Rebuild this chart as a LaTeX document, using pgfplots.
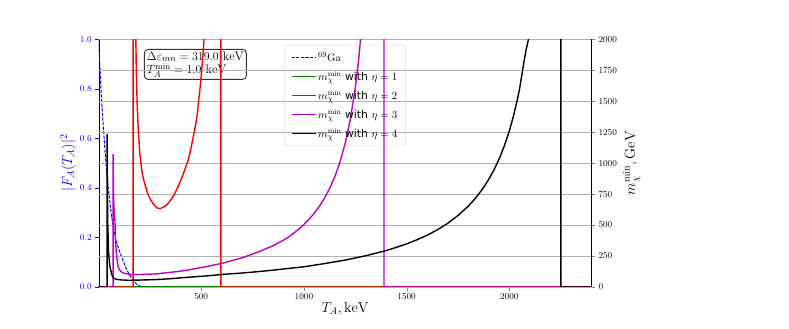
\documentclass[border=0pt]{standalone}
\usepackage{fontspec}
\usepackage{pgfplots}
\pgfplotsset{compat=1.18}
\newfontfamily\dejavu{DejaVu Sans}
\definecolor{mplgreen}{rgb}{0,0.5,0}
\definecolor{mplmag}{rgb}{0.75,0,0.75}
\definecolor{mplred}{rgb}{1,0,0}
\definecolor{mplblue}{rgb}{0,0,1}
\definecolor{gridgray}{rgb}{0.69,0.69,0.69}
\definecolor{legframe}{rgb}{0.82,0.82,0.82}
\begin{document}
\begin{tikzpicture}
\path (0bp,0bp) rectangle (789bp,329bp);
\pgfplotsset{
  base/.style={at={(98.7bp,42bp)}, anchor=south west, scale only axis,
    width=492.8bp, height=247.7bp, xmin=1, xmax=2400,
    tick align=outside, major tick length=3.5bp,
    tick label style={font=\fontsize{8.8}{10}\selectfont},
    /pgf/number format/1000 sep={},
    scaled ticks=false,
  }
}
\begin{axis}[base, ymin=0, ymax=1,
  xtick={500,1000,1500,2000}, xtick pos=bottom, ytick pos=left,
  ytick={0,0.2,0.4,0.6,0.8,1.0},
  yticklabels={$0.0$,$0.2$,$0.4$,$0.6$,$0.8$,$1.0$},
  y tick style={mplblue}, yticklabel style={mplblue},
  every axis y label/.style={at={(axis description cs:-0.0623,0.5)}, rotate=90, anchor=center, mplblue, font=\fontsize{14.5}{17}\selectfont},
  every axis x label/.style={at={(axis description cs:0.5,-0.0606)}, anchor=north, inner sep=0pt, font=\fontsize{14.5}{17}\selectfont},
  xlabel={$T_A, \mathrm{keV}$}, ylabel={$|F_A(T_A)|^2$},
]
\addplot[mplblue, line width=1bp, dash pattern=on 3.2bp off 1.4bp, no markers] coordinates {
(1,1.0) (10,0.83) (20,0.69) (30,0.57) (40,0.465) (50,0.38) (60,0.31) (71,0.245)
(88,0.18) (104,0.14) (120,0.105) (135,0.075) (150,0.05) (168,0.028) (185,0.012)
(200,0.004) (215,0.0005) (230,0) (2400,0)};
\node[draw=black!80, line width=0.9bp, rounded corners=3.5bp, fill=white, anchor=north west,
  inner xsep=2.5bp, inner ysep=2bp, align=left, font=\fontsize{12.5}{14}\selectfont]
  at (rel axis cs:0.0919,0.961)
  {$\Delta\varepsilon_{mn} = 319.0\ \mathrm{keV}$\\$T_A^{\min} = 1.0\ \mathrm{keV}$};
\end{axis}
\begin{axis}[base, ymin=0, ymax=2000, axis y line*=right, axis x line=none,
  ytick={0,250,500,750,1000,1250,1500,1750,2000},
  ymajorgrids, grid style={gridgray, line width=0.8bp},
  every axis y label/.style={at={(axis description cs:1.0816,0.5)}, rotate=90, anchor=center, font=\fontsize{14.5}{17}\selectfont},
  ylabel={$m_\chi^{\min}, \mathrm{GeV}$},
  legend style={at={(axis description cs:0.5,0.977)}, anchor=north, draw=legframe,
    rounded corners=2.5bp, fill=none,
    font=\fontsize{10.8}{12}\selectfont, row sep=4.6bp, inner xsep=6bp, inner ysep=5bp},
  legend cell align=left,
  legend image code/.code={\draw[#1] (0cm,0cm) -- (0.8467cm,0cm);},
]
\addlegendimage{mplblue, line width=1.1bp, dash pattern=on 3.2bp off 1.4bp}
\addlegendentry{$^{69}$Ga}
\addplot[mplgreen, line width=1.4bp, no markers] coordinates {(1,0) (2400,0)};
\addlegendentry{$m_\chi^{\min}$ {\dejavu with} $\eta = 1$}
\addplot[mplred, line width=1.4bp, no markers] coordinates {
(1,0) (168.5,0) (168.5,10000) (170,9000) (172,6163) (175,3535) (178,2567) (180,2202)
(184,1755) (188,1491) (193,1282) (201,1082) (210,949) (217,885) (230,805) (242,742)
(255,700) (265,675) (276,652) (287,637) (300,633) (310,640) (320,650) (331,663)
(343,684) (355,710) (368,745) (380,785) (390,820) (400,860) (410,900) (420,947)
(428,985) (437,1027) (445,1082) (452,1135) (460,1200) (468,1270) (477,1351) (483,1425)
(488,1513) (494,1600) (500,1700) (507,1840) (514,2000) (530,2500) (550,3300)
(575,5000) (596,10000) (596,0) (2400,0)};
\addlegendentry{$m_\chi^{\min}$ {\dejavu with} $\eta = 2$}
\addplot[mplmag, line width=1.4bp, no markers] coordinates {
(1,0) (71,0) (71,1073) (72.5,800) (75,640) (80,540) (82,420) (84,340) (88,255)
(92,200) (96,160) (104,135) (112,122) (120,114) (136,106) (155,103) (177,101) (200,101)
(230,102) (282,106) (350,118) (400,128) (445,140) (520,163) (607,193) (650,213)
(700,236) (770,278) (850,333) (900,378) (932,410) (975,468) (1000,504) (1025,546)
(1050,595) (1075,651) (1100,717) (1125,795) (1150,889) (1175,1006) (1200,1153)
(1225,1345) (1250,1606) (1265,1812) (1280,2074) (1300,2560) (1340,4700) (1370,9000)
(1390,10000) (1390,0) (2400,0)};
\addlegendentry{$m_\chi^{\min}$ {\dejavu with} $\eta = 3$}
\addplot[black, line width=1.4bp, no markers] coordinates {
(1,0) (42,0) (42,1235) (43,850) (45,520) (49,280) (55,170) (63,111) (71,75)
(85,62) (110,57) (150,54) (200,56) (282,60) (350,67) (445,80) (530,90) (607,102)
(700,113) (770,123) (850,136) (932,151) (1000,163) (1100,189) (1200,217) (1300,252)
(1400,294) (1450,320) (1500,348) (1550,381) (1600,418) (1650,462) (1700,514)
(1750,577) (1800,653) (1825,698) (1850,748) (1875,805) (1900,870) (1925,945)
(1950,1033) (1975,1136) (2000,1260) (2020,1379) (2039,1513) (2050,1601) (2065,1755)
(2080,1902) (2093,2000) (2120,2516) (2150,3296) (2200,6635) (2251,10000) (2251,0) (2400,0)};
\addlegendentry{$m_\chi^{\min}$ {\dejavu with} $\eta = 4$}
\end{axis}
\end{tikzpicture}
\end{document}
